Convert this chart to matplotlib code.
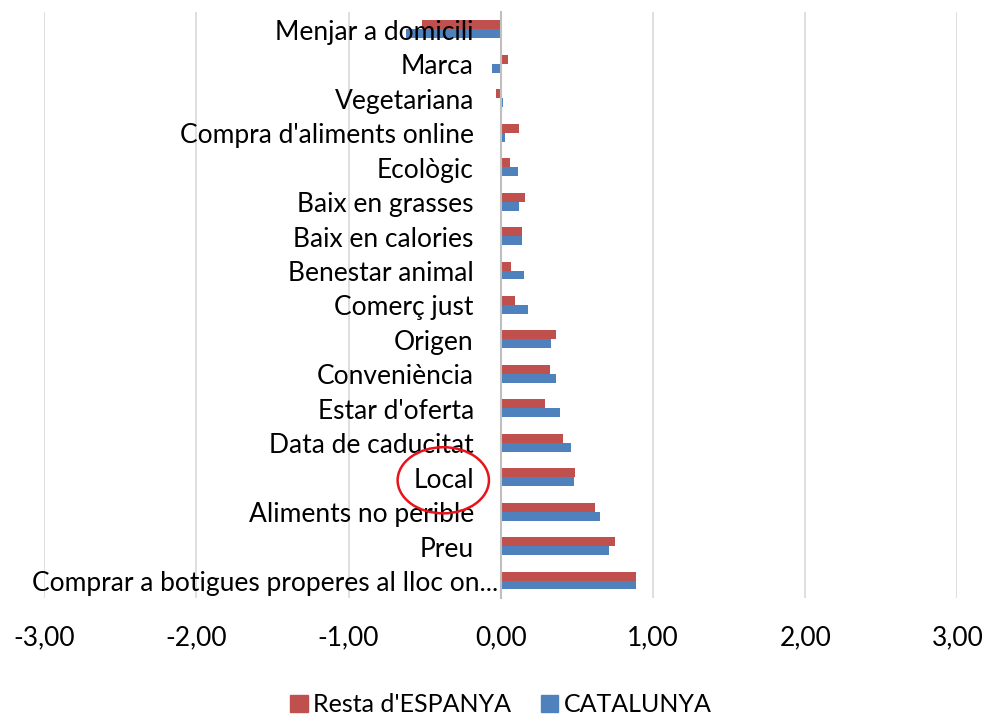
import numpy as np
import matplotlib
matplotlib.use("Agg")
import matplotlib.pyplot as plt
import matplotlib.transforms as mtransforms
from matplotlib.patches import Ellipse, Patch

plt.rcParams['font.family'] = ['Lato', 'DejaVu Sans']

categories = ["Menjar a domicili", "Marca", "Vegetariana", "Compra d'aliments online",
              "Ecològic", "Baix en grasses", "Baix en calories", "Benestar animal",
              "Comerç just", "Origen", "Conveniència", "Estar d'oferta",
              "Data de caducitat", "Local", "Aliments no perible", "Preu",
              "Comprar a botigues properes al lloc on..."]
resta_espanya = [-0.52, 0.05, -0.03, 0.12, 0.06, 0.16, 0.14, 0.07, 0.09,
                 0.36, 0.32, 0.29, 0.41, 0.49, 0.62, 0.75, 0.89]
catalunya = [-0.62, -0.06, 0.015, 0.03, 0.11, 0.12, 0.14, 0.15, 0.18,
             0.33, 0.36, 0.39, 0.46, 0.48, 0.65, 0.71, 0.89]
xticks = [-3, -2, -1, 0, 1, 2, 3]

red = '#C0504D'
blue = '#4F81BD'

fig = plt.figure(figsize=(9.82, 7.15), dpi=100)
ax = fig.add_axes([0.045, 0.164, 0.93, 0.819])

y = np.arange(len(categories))
h = 0.26
ax.barh(y - h / 2, resta_espanya, height=h, color=red, zorder=2)
ax.barh(y + h / 2, catalunya, height=h, color=blue, zorder=2)

ax.set_xlim(-3, 3)
ax.set_ylim(len(categories) - 0.5, -0.5)
ax.set_xticks(xticks)
ax.set_xticklabels([f"{v:.2f}".replace('.', ',') for v in xticks], fontsize=19)
ax.tick_params(axis='x', length=0, pad=20)
ax.xaxis.grid(True, color='#D9D9D9', linewidth=1.2)
ax.set_axisbelow(True)

for s in ['top', 'right', 'bottom']:
    ax.spines[s].set_visible(False)
ax.spines['left'].set_position(('data', 0))
ax.spines['left'].set_color('#BFBFBF')
ax.spines['left'].set_linewidth(1.5)
ax.set_yticks([])

# category labels drawn over the bars, right-aligned just left of zero
for yi, name in zip(y, categories):
    dx = -3 if name.endswith('...') else -27
    trans = mtransforms.offset_copy(ax.transData, fig=fig, x=dx, y=-3, units='dots')
    ax.text(0, yi, name, transform=trans, ha='right', va='center',
            fontsize=19, color='black', zorder=5)

# circle around "Local"
ax.add_patch(Ellipse((-0.378, 13.09), 0.6, 1.92, fill=False, edgecolor='#E8141B',
                     linewidth=1.8, clip_on=False, zorder=6))

handles = [Patch(color=red), Patch(color=blue)]
fig.legend(handles, ["Resta d'ESPANYA", "CATALUNYA"], loc='lower center',
           bbox_to_anchor=(0.51, -0.033), ncol=2, frameon=False, fontsize=18,
           handlelength=0.7, handleheight=0.7, handletextpad=0.2, columnspacing=1.2)

fig.savefig('out.png', dpi=100)
